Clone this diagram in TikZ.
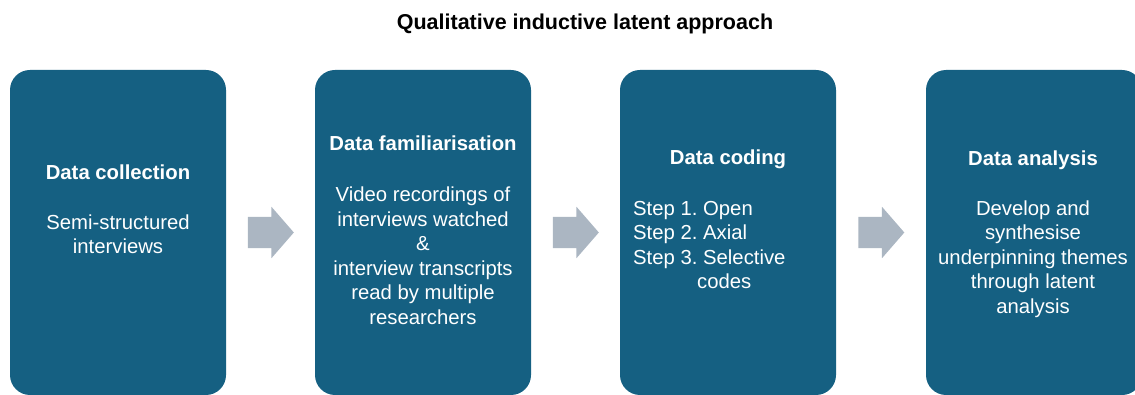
\documentclass[tikz,border=0pt]{standalone}
\usepackage{fontspec}
\setmainfont{Liberation Sans}
\frenchspacing
\usetikzlibrary{shapes.arrows,calc}
\definecolor{boxblue}{HTML}{156082}
\definecolor{arrowgrey}{HTML}{ABB6C2}
\tikzset{
  stagebox/.style={fill=boxblue, draw=none, rounded corners=20pt, minimum width=216pt, minimum height=325pt, inner sep=0pt},
  boxhead/.style={text=white, font=\fontsize{20.3}{24.5}\selectfont\bfseries, anchor=base, inner sep=0pt},
  boxbody/.style={text=white, font=\fontsize{20.3}{24.5}\selectfont\frenchspacing, anchor=base, align=center, inner sep=0pt},
  blockarrow/.style={single arrow, fill=arrowgrey, draw=none, inner sep=0pt, text height=31pt, text depth=0pt, minimum width=51pt, minimum height=46pt, single arrow head extend=10pt, single arrow tip angle=98, xshift=-6.5pt},
}
\begin{document}
\begin{tikzpicture}[x=1pt,y=-1pt]
\useasboundingbox (0,0) rectangle (1135,395);
\node[font=\fontsize{21.5}{26}\selectfont\bfseries, anchor=base, inner sep=0pt] (title) at (585,30) {Qualitative inductive latent approach};

\node[stagebox] (b1) at (118,232.5) {};
\node[stagebox] (b2) at (423,232.5) {};
\node[stagebox] (b3) at (728,232.5) {};
\node[stagebox] (b4) at (1034,232.5) {};

\node[boxhead] (h1) at (118,180) {Data collection};
\node[boxbody] (t1) at (118,254) {Semi-structured\\interviews};

\node[boxhead] (h2) at (423,150.5) {Data familiarisation};
\node[boxbody] (t2) at (423,324) {Video recordings of\\interviews watched\\\&\\interview transcripts\\read by multiple\\researchers};

\node[boxhead] (h3) at (728,165) {Data coding};
\node[boxbody, align=left, anchor=base west] (t3) at (633,289) {Step 1. Open\\Step 2. Axial\\Step 3. Selective\\\hspace*{64pt}codes};

\node[boxhead] (h4) at (1033,166) {Data analysis};
\node[boxbody] (t4) at (1033,313) {Develop and\\synthesise\\underpinning themes\\through latent\\analysis};

\node[blockarrow] (a1) at ($(b1.east)!0.5!(b2.west)$) {};
\node[blockarrow] (a2) at ($(b2.east)!0.5!(b3.west)$) {};
\node[blockarrow] (a3) at ($(b3.east)!0.5!(b4.west)$) {};
\end{tikzpicture}
\end{document}
